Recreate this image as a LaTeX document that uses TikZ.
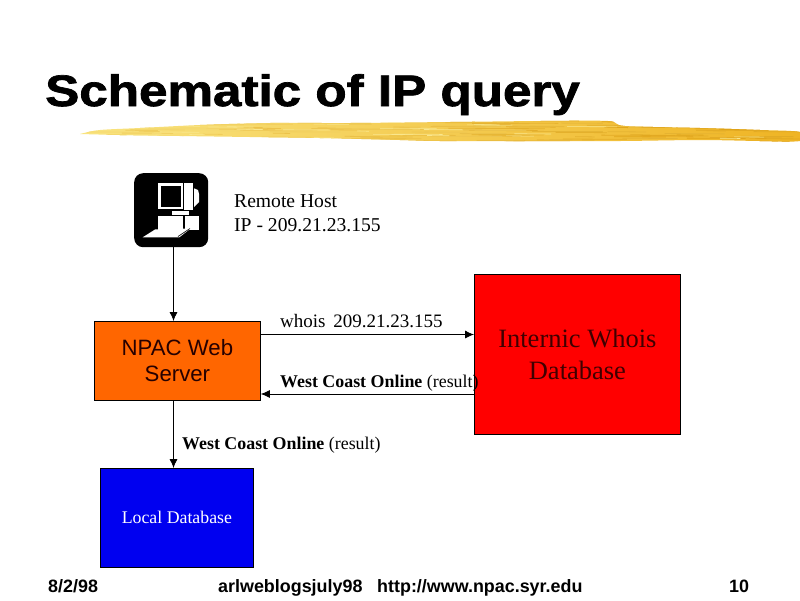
\documentclass[tikz,border=0pt]{standalone}
\usepackage{fontspec}
\setmainfont{Liberation Serif}
\setsansfont{Liberation Sans}
\newfontfamily\titlefont[FakeBold=1.6]{Liberation Sans Bold}
\usetikzlibrary{arrows.meta,calc}
\definecolor{npacorange}{HTML}{FF6600}
\definecolor{whoisred}{HTML}{FF0000}
\definecolor{localblue}{HTML}{0000F0}
\definecolor{brushpale}{HTML}{F9E480}
\definecolor{brushgold}{HTML}{EFB424}
\definecolor{brushdeep}{HTML}{DFA216}
\tikzset{
  box/.style={draw=black,line width=0.8pt,minimum width=#1,inner sep=0pt,align=center,anchor=north west},
  lbl/.style={anchor=base west,inner sep=0pt,text=black,font=\fontsize{19.6}{24}\selectfont},
  small/.style={font=\fontsize{17.9}{21}\selectfont},
  foot/.style={anchor=base west,inner sep=0pt,font=\sffamily\bfseries\fontsize{17.9}{20}\selectfont},
  conn/.style={draw=black,line width=0.8pt,-{Latex[length=9pt,width=8pt]},shorten >=0pt}
}
\newcommand{\dropline}[1]{\raisebox{-1pt}{#1}}
\begin{document}
\begin{tikzpicture}[x=1pt,y=-1pt]
\useasboundingbox (0,0) rectangle (800,600);
\fill[white] (0,0) rectangle (800,600);
% brush stroke
\begin{scope}
\path[clip] plot[smooth] coordinates {(80,134)(100,130)(140,128)(200,125)(270,123)(350,123)(450,122)(540,121)(608,121)(625,126)(700,128)(760,130)(800,132)(800,141)(760,141)(700,140)(620,141)(540,141)(440,141)(400,140)(320,138)(250,137)(180,136)(120,135)(80,134)};
\shade[left color=brushpale,right color=brushgold] (78,115) rectangle (800,146);
\pgfmathsetseed{42}
\foreach \i in {1,...,150}{
  \pgfmathsetmacro{\sx}{80+rnd*680}
  \pgfmathsetmacro{\sy}{120+rnd*22}
  \pgfmathsetmacro{\sl}{15+rnd*60}
  \pgfmathsetmacro{\sm}{min(100,max(0,\sx/8+rnd*30-10))}
  \draw[line width=0.8pt,color=brushdeep!\sm!brushpale] (\sx,\sy) -- (\sx+\sl,\sy+0.3);
}
\foreach \i in {1,...,30}{
  \pgfmathsetmacro{\sx}{100+rnd*640}
  \pgfmathsetmacro{\sy}{122+rnd*18}
  \pgfmathsetmacro{\sl}{10+rnd*40}
  \draw[line width=0.6pt,color=brushpale!90!white] (\sx,\sy) -- (\sx+\sl,\sy+0.3);
}
\end{scope}
% title
\node[anchor=base west,inner sep=0pt,xscale=1.163] (title) at (45,106) {\titlefont\fontsize{44}{50}\selectfont Schematic of IP query};
% host icon
\node[fill=black,rounded corners=9pt,minimum width=74pt,minimum height=74pt,inner sep=0pt,anchor=north west] (icon) at (134,173) {};
\fill[white] (157.7,182.7) rectangle (183.3,209.3);
\fill[black] (160.7,186) rectangle (180.7,206.7);
\fill[white] (184.3,182.7) rectangle (193.3,210);
\fill[white] (194,188.3) -- (198,190) -- (199,194) -- (199,202) -- (194,207) -- cycle;
\fill[white] (171.7,211) rectangle (189,215);
\fill[white] (157.7,216) rectangle (183.3,230);
\fill[white] (185,216) rectangle (199,230);
\fill[white] (142.7,237.3) -- (155,229.5) -- (191,228.3) -- (179.3,237.3) -- cycle;
\draw[black,line width=0.6pt] (178,236.5) -- (190,228.5);
\node[lbl] (hostname) at (234,207) {Remote Host};
\node[lbl] (hostip) at (234,231) {IP - 209.21.23.155};
% boxes
\node[box=166pt,minimum height=79pt,fill=npacorange,font=\sffamily\fontsize{22.2}{26}\selectfont,text=black!85!red] (npac) at (94,321) {\dropline{NPAC Web}\\\dropline{Server}};
\node[box=206pt,minimum height=160pt,fill=whoisred,font=\fontsize{26.5}{32}\selectfont,text=black!75!red] (whois) at (474,274) {\dropline{Internic Whois}\\\dropline{Database}};
\node[box=153pt,minimum height=99pt,fill=localblue,text=white,font=\fontsize{17.8}{21}\selectfont] (local) at (100,468) {\dropline{Local Database}};
% connectors
\coordinate (vline) at (173.5,0);
\coordinate (qline) at (0,334.5);
\coordinate (rline) at (0,394);
\draw[conn] (icon.south -| vline) -- (npac.north -| vline);
\draw[conn] (npac.south -| vline) -- (local.north -| vline);
\draw[conn] (npac.east |- qline) -- (whois.west |- qline);
\draw[conn] (whois.west |- rline) -- (npac.east |- rline);
% labels
\node[lbl,font=\fontsize{19}{23}\selectfont] (qlabel) at (280,327) {whois\, 209.21.23.155};
\node[lbl,small] (rlabel) at (280,387) {\textbf{West Coast Online} (result)};
\node[lbl,small] (dlabel) at (182,449) {\textbf{West Coast Online} (result)};
% footer
\node[foot] (fdate) at (48,592) {8/2/98};
\node[foot] (fname) at (218,592) {arlweblogsjuly98};
\node[foot] (furl) at (377,592) {http://www.npac.syr.edu};
\node[foot] (fnum) at (729,592) {10};
\end{tikzpicture}
\end{document}
